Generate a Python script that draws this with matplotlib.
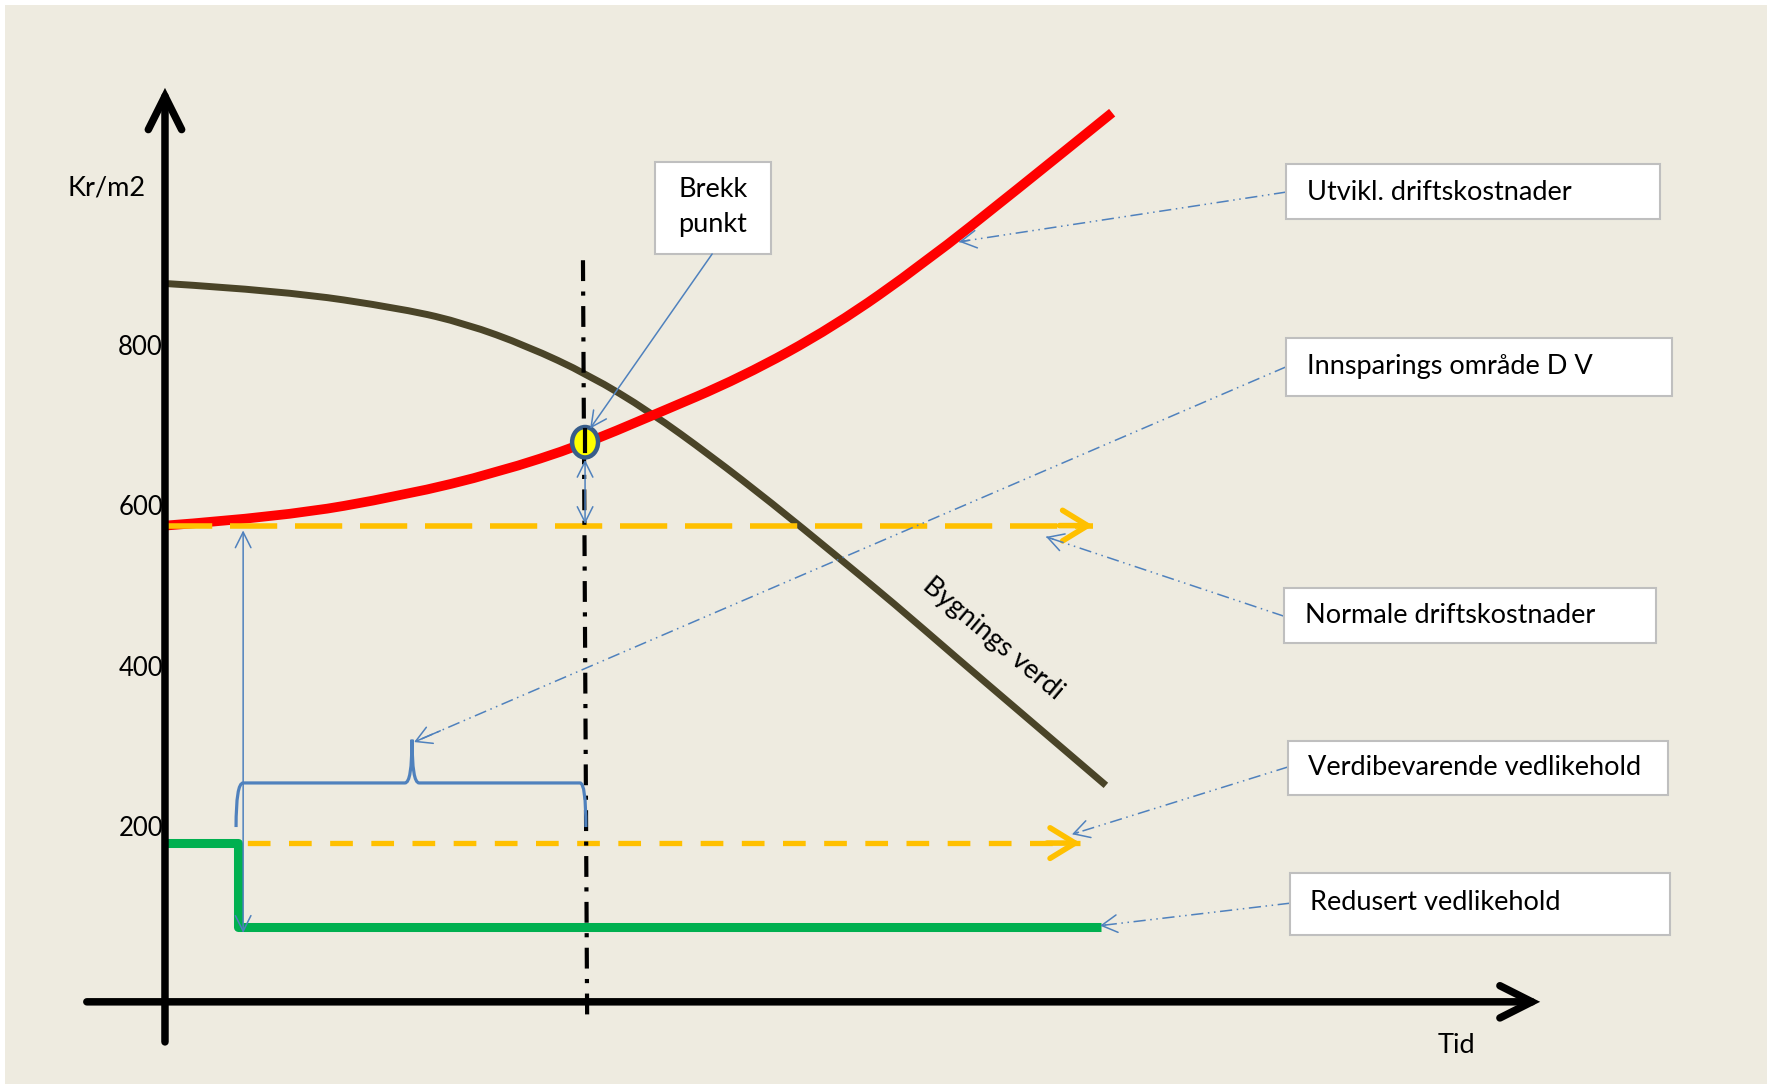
import matplotlib
matplotlib.use('Agg')
import matplotlib.pyplot as plt
from matplotlib.patches import Rectangle, Ellipse, PathPatch
from matplotlib.path import Path

plt.rcParams['font.family'] = ['Lato', 'DejaVu Sans']

# Bygnings verdi (building value), falling curve
bygg_x = [0, 2.81, 5.74, 7.19, 8.66, 10.14, 11.60, 13.06, 14.52, 16.0, 17.46, 18.92, 20.38, 22.51]
bygg_y = [880, 871, 848, 830, 802, 766, 720, 665, 606, 543, 480, 414, 349, 254]

# Utvikl. driftskostnader (rising running costs)
drift_x = [0, 2.80, 5.74, 7.94, 10.0, 11.60, 13.80, 16.0, 18.18, 20.38, 22.66]
drift_y = [578, 589, 616, 644, 679, 714, 763, 826, 906, 997, 1093]

# Normale driftskostnader / Verdibevarende vedlikehold (flat levels)
normal_y = 578
normal_x = [0, 22.2]
verdi_y = 182
verdi_x = [0, 21.9]

# Redusert vedlikehold (step down)
redusert_x = [0, 1.75, 1.75, 22.4]
redusert_y = [182, 182, 77, 77]

# break point
brekk_x = 10.05
brekk_y = 682

y_ticks = [200, 400, 600, 800]

labels = ["Utvikl. driftskostnader", "Innsparings område D V",
          "Normale driftskostnader", "Verdibevarende vedlikehold",
          "Redusert vedlikehold"]

bg = '#EEEBE0'
blue = '#4F81BD'
orange = '#FFC000'
fs = 19.5


def smooth_path(xs, ys):
    # quadratic bezier through midpoints, keeps the drawn curve round
    pts = list(zip(xs, ys))
    verts = [pts[0]]
    codes = [Path.MOVETO]
    for i in range(1, len(pts) - 1):
        mid = ((pts[i][0] + pts[i + 1][0]) / 2, (pts[i][1] + pts[i + 1][1]) / 2)
        verts += [pts[i], mid]
        codes += [Path.CURVE3, Path.CURVE3]
    verts.append(pts[-1])
    codes.append(Path.LINETO)
    return Path(verts, codes)


fig = plt.figure(figsize=(17.73, 10.84), dpi=100, facecolor='white')
fig.patches.append(Rectangle((5 / 1773, 0), 1762 / 1773, 1079 / 1084,
                             transform=fig.transFigure, facecolor=bg,
                             edgecolor='none', zorder=-10))
ax = fig.add_axes([0, 0, 1, 1])
ax.patch.set_visible(False)
ax.set_xlim(-3.947, 38.47)
ax.set_ylim(-118.5, 1233.6)
ax.axis('off')

# axes with arrows
ax.annotate('', xy=(0, 1124), xytext=(0, -66),
            arrowprops=dict(arrowstyle='->,head_length=1.2,head_width=0.6',
                            mutation_scale=20, lw=5.4, color='black',
                            shrinkA=0, shrinkB=0, capstyle='round',
                            joinstyle='miter'), zorder=5)
ax.annotate('', xy=(32.9, -16), xytext=(-1.87, -16),
            arrowprops=dict(arrowstyle='->,head_length=1.15,head_width=0.58',
                            mutation_scale=20, lw=5.4, color='black',
                            shrinkA=0, shrinkB=0, capstyle='round',
                            joinstyle='miter'), zorder=5)

for t in y_ticks:
    ax.text(-0.05, t, str(t), ha='right', va='center', fontsize=18.5, zorder=6)
ax.text(-1.39, 999, 'Kr/m2', ha='center', va='center', fontsize=fs)
ax.text(30.89, -71, 'Tid', ha='center', va='center', fontsize=fs)

# curves
ax.add_patch(PathPatch(smooth_path(bygg_x, bygg_y), facecolor='none',
                       edgecolor='#4A4428', lw=5, capstyle='butt', zorder=3))
ax.add_patch(PathPatch(smooth_path(drift_x, drift_y), facecolor='none',
                       edgecolor='#FF0000', lw=7, capstyle='butt', zorder=3))
ax.plot(normal_x, [normal_y] * 2, color=orange, lw=4, dashes=(8.5, 3.2), zorder=3.5)
ax.annotate('', xy=(normal_x[1], normal_y), xytext=(normal_x[1] - 0.8, normal_y),
            arrowprops=dict(arrowstyle='->,head_length=0.9,head_width=0.55',
                            mutation_scale=20, lw=4, color=orange,
                            shrinkA=0, shrinkB=0, capstyle='round'))
ax.plot(verdi_x, [verdi_y] * 2, color=orange, lw=3.8, dashes=(4.3, 3.5), zorder=2)
ax.annotate('', xy=(verdi_x[1], verdi_y), xytext=(verdi_x[1] - 0.8, verdi_y),
            arrowprops=dict(arrowstyle='->,head_length=0.9,head_width=0.55',
                            mutation_scale=20, lw=4, color=orange,
                            shrinkA=0, shrinkB=0, capstyle='round'))
ax.plot(redusert_x, redusert_y, color='#00B050', lw=6.5, solid_joinstyle='round',
        solid_capstyle='butt', zorder=3)

# vertical break line
ax.plot([brekk_x - 0.05, brekk_x + 0.05], [909, -40], color='black', lw=3,
        dashes=(5, 2.5, 1, 2.5), zorder=4)

# brace for savings area
x0, x1, xm, yb, yt, yp = 1.70, 10.07, 5.91, 202, 257, 311
verts = [(x0, yb), (x0, yt), (x0 + 0.17, yt), (xm - 0.17, yt),
         (xm, yt), (xm, yp), (xm, yt), (xm + 0.17, yt),
         (x1 - 0.14, yt), (x1, yt), (x1, yb)]
codes = [Path.MOVETO, Path.CURVE3, Path.CURVE3, Path.LINETO,
         Path.CURVE3, Path.CURVE3, Path.CURVE3, Path.CURVE3,
         Path.LINETO, Path.CURVE3, Path.CURVE3]
ax.add_patch(PathPatch(Path(verts, codes), facecolor='none', edgecolor=blue,
                       lw=2.3, zorder=4))

# double arrows
thin = dict(arrowstyle='<->,head_length=0.8,head_width=0.4', mutation_scale=14,
            lw=1.1, color=blue, shrinkA=0, shrinkB=0)
ax.annotate('', xy=(1.87, 70), xytext=(1.87, 572), arrowprops=thin, zorder=4.5)
ax.annotate('', xy=(brekk_x, 580), xytext=(brekk_x, 660), arrowprops=thin, zorder=4.5)

# break point marker
ax.add_patch(Ellipse((brekk_x, brekk_y), 0.62, 38, facecolor='#FFFF00',
                     edgecolor='#385D8A', lw=3.2, zorder=5))
ax.plot([brekk_x, brekk_x], [671, 697], color='black', lw=3, zorder=5.5)

# Brekk punkt box and arrow
ax.add_patch(Rectangle((11.72, 916.8), 2.78, 114.8, facecolor='white',
                       edgecolor='#BFBFBF', lw=1.5, zorder=6))
ax.text(13.11, 997, 'Brekk', ha='center', va='center', fontsize=fs, zorder=7)
ax.text(13.11, 953, 'punkt', ha='center', va='center', fontsize=fs, zorder=7)
ax.annotate('', xy=(10.17, 699), xytext=(13.09, 916.8),
            arrowprops=dict(arrowstyle='->,head_length=0.8,head_width=0.4',
                            mutation_scale=14, lw=1.1, color=blue,
                            shrinkA=0, shrinkB=0), zorder=6)

# label boxes with leader lines
boxes = [(26.82, 960, 8.95, 69), (26.82, 740, 9.23, 72), (26.77, 432, 8.90, 68),
         (26.87, 242, 9.09, 67), (26.91, 67, 9.09, 78)]
text_pos = [(27.32, 993), (27.32, 776), (27.27, 466), (27.34, 276), (27.39, 108)]
leaders = [((26.82, 994), (19.0, 932)), ((26.82, 776), (5.96, 308)),
           ((26.77, 465), (21.08, 564)), ((26.87, 277), (21.70, 193)),
           ((26.91, 107), (22.37, 79))]

for (bx, by, bw, bh), (tx, ty), lab, (start, tip) in zip(boxes, text_pos, labels, leaders):
    ax.add_patch(Rectangle((bx, by), bw, bh, facecolor='white',
                           edgecolor='#BFBFBF', lw=1.5, zorder=6))
    ax.text(tx, ty, lab, ha='left', va='center', fontsize=fs, zorder=7)
    ax.plot([start[0], tip[0]], [start[1], tip[1]], color=blue, lw=1.1,
            dashes=(8, 3, 1, 3, 1, 3), zorder=4)
    back = (tip[0] + 0.03 * (start[0] - tip[0]), tip[1] + 0.03 * (start[1] - tip[1]))
    ax.annotate('', xy=tip, xytext=back,
                arrowprops=dict(arrowstyle='->,head_length=0.8,head_width=0.45',
                                mutation_scale=14, lw=1.1, color=blue,
                                shrinkA=0, shrinkB=0), zorder=4)

ax.text(19.8, 437, 'Bygnings verdi', ha='center', va='center', fontsize=fs,
        rotation=-40, rotation_mode='anchor', zorder=6)

fig.savefig('out.png', dpi=100, facecolor=fig.get_facecolor())
